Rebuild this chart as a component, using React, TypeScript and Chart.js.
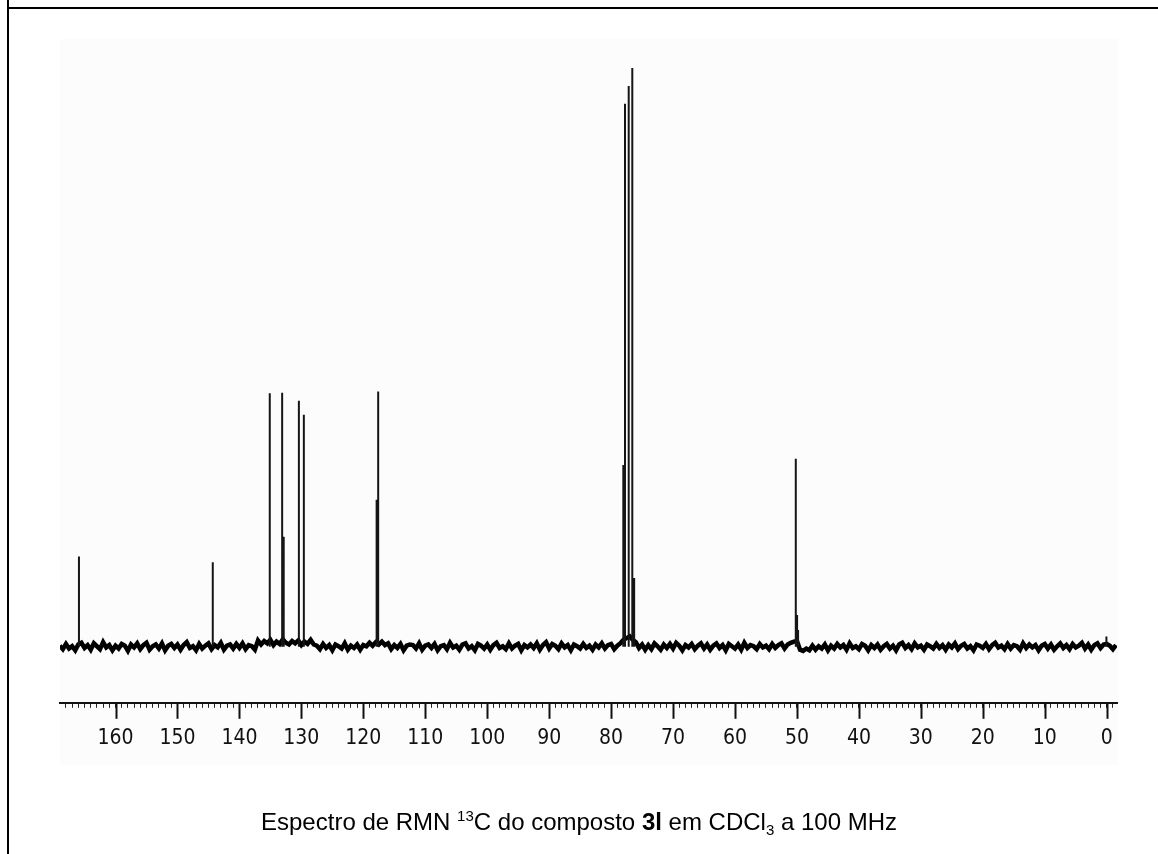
import React, { useEffect, useRef } from "react";
import { Chart, registerables } from "chart.js";

Chart.register(...registerables);

// ppm axis window
const X_MAX = 168.96;
const X_MIN = -1.66;
const Y_MIN = -9.67;
const Y_MAX = 105;

// baseline noise, sampled every 0.5 ppm starting at 169.0 ppm (relative intensity units)
const NOISE_START = 169.0;
const NOISE_STEP = 0.5;
const NOISE = [
  0.2, -0.4, 0.5, -0.3, 0.1, -0.6, 0.4, 0.7, -0.2, 0.3, -0.5, 0.6, 0.1, -0.4, 0.8, -0.1, 0.3, -0.6, 0.2,
  -0.3, 0.5, 0.2, -0.7, 0.4, -0.1, 0.6, -0.4, 0.3, 0.7, -0.5, 0.1, 0.4, -0.3, 0.6, -0.6, 0.2, 0.5, -0.2,
  0.4, -0.5, 0.3, 0.8, -0.2, 0.1, -0.6, 0.5, -0.3, 0.2, 0.6, -0.4, 0.3, -0.1, 0.7, -0.5, 0.2, 0.4, -0.3,
  0.5, -0.2, 0.6, -0.4, 0.3, 0.1, -0.5, 1.1, 0.4, 1.0, 0.6, 1.2, 0.3, 0.9, 0.5, 1.3, 0.7, 0.4, 1.0,
  0.6, 1.1, 0.3, 0.9, 0.5, 1.2, 0.4, 0.2, -0.4, 0.5, -0.2, 0.3, -0.6, 0.4, 0.1, -0.3, 0.6, -0.5, 0.2,
  -0.2, 0.4, -0.5, 0.3, 0.1, 0.7, 0.2, 0.8, 0.4, 0.9, 0.3, 0.6, -0.4, 0.3, -0.2, 0.5, -0.6, 0.2, 0.4,
  0.3, -0.3, 0.6, -0.5, 0.2, 0.4, -0.2, 0.5, -0.6, 0.1, 0.3, -0.4, 0.7, -0.1, 0.2, -0.5, 0.4, 0.6, -0.3,
  0.1, -0.6, 0.5, 0.2, -0.3, 0.4, -0.5, 0.3, 0.7, -0.2, 0.1, -0.4, 0.6, -0.3, 0.2, 0.5, -0.6, 0.3, -0.1,
  0.4, -0.2, 0.6, -0.5, 0.3, 0.8, -0.3, 0.5, 0.2, -0.4, 0.6, -0.1, 0.3, -0.6, 0.4, 0.1, -0.3, 0.5, -0.2,
  0.2, -0.5, 0.4, -0.1, 0.6, -0.3, 0.3, 0.5, -0.4, 0.2, 0.6, 1.2, 1.5, 1.8, 1.2, 0.8, -0.2, 0.4, -0.5,
  0.3, -0.4, 0.6, 0.1, -0.5, 0.4, -0.2, 0.5, -0.3, 0.7, 0.2, -0.6, 0.3, -0.1, 0.5, -0.4, 0.2, 0.6, -0.3,
  0.4, -0.5, 0.2, 0.6, -0.2, 0.3, -0.6, 0.5, 0.1, -0.3, 0.4, -0.5, 0.7, -0.2, 0.3, 0.1, -0.4, 0.5, -0.1,
  0.2, -0.4, 0.5, -0.2, 0.3, 0.6, -0.3, 0.4, 0.7, 0.9, 1.0, -0.5, -0.7, -0.3, -0.6, 0.2, -0.5, 0.1, -0.3,
  0.4, -0.6, 0.2, -0.3, 0.5, -0.1, 0.3, -0.5, 0.6, -0.2, 0.1, -0.4, 0.5, 0.2, -0.6, 0.3, -0.2, 0.4, -0.5,
  0.1, 0.5, -0.3, 0.2, -0.6, 0.4, 0.7, -0.2, 0.3, -0.4, 0.6, -0.1, 0.2, -0.5, 0.4, 0.1, -0.3, 0.5, -0.2,
  0.3, -0.5, 0.4, -0.1, 0.6, -0.4, 0.2, 0.5, -0.3, 0.1, -0.6, 0.4, 0.2, -0.2, 0.5, -0.4, 0.3, 0.7, -0.1,
  0.2, -0.4, 0.5, -0.3, 0.3, 0.1, -0.5, 0.6, -0.2, 0.4, -0.1, 0.3, -0.6, 0.2, 0.5, -0.3, 0.4, -0.5, 0.1,
  0.6, -0.2, 0.3, -0.4, 0.5, -0.1, 0.2, 0.7, -0.3, 0.4, -0.5, 0.3, 0.6, -0.2, 0.4, 0.5, 0.2, -0.4, 0.3,
];

// resonances (ppm) and their heights (relative, tallest = 100)
const PEAK_PPM = [165.9, 144.3, 135.1, 133.1, 132.85, 130.4, 129.6, 117.85, 117.6, 78.03, 77.76, 77.16, 76.58, 76.28, 50.19, 49.98, 49.82, 0.05];
const PEAK_HEIGHT = [15.6, 14.6, 43.8, 43.9, 19.0, 42.5, 40.1, 25.4, 44.1, 31.4, 93.8, 96.9, 100, 11.9, 32.5, 5.5, 2.9, 1.8];

// axis ticks
const MAJOR_TICKS = [160, 150, 140, 130, 120, 110, 100, 90, 80, 70, 60, 50, 40, 30, 20, 10, 0];
const MINOR_TICK_FIRST = 168;
const MINOR_TICK_LAST = -1;

const rulerPlugin = {
  id: "ruler",
  beforeDraw(chart: any) {
    const { ctx, chartArea } = chart;
    ctx.save();
    ctx.fillStyle = "#fcfcfc";
    ctx.fillRect(chartArea.left, chartArea.top, chartArea.right - chartArea.left + 1, chartArea.bottom - chartArea.top + 62);
    ctx.restore();
  },
  afterDraw(chart: any) {
    const { ctx, chartArea } = chart;
    const xs = chart.scales.x;
    ctx.save();
    ctx.strokeStyle = "#111";
    ctx.lineWidth = 2;
    MAJOR_TICKS.forEach((v) => {
      const px = Math.round(xs.getPixelForValue(v)) + 0.5;
      ctx.beginPath();
      ctx.moveTo(px, chartArea.bottom);
      ctx.lineTo(px, chartArea.bottom + 16);
      ctx.stroke();
    });
    ctx.restore();
  },
};

export default function App() {
  const ref = useRef<HTMLCanvasElement | null>(null);

  useEffect(() => {
    if (!ref.current) return;
    const noiseData = NOISE.map((y, i) => ({ x: NOISE_START - i * NOISE_STEP, y }));
    const peakData: { x: number; y: number | null }[] = [];
    PEAK_PPM.forEach((p, i) => {
      peakData.push({ x: p, y: 0 });
      peakData.push({ x: p, y: PEAK_HEIGHT[i] });
      peakData.push({ x: p, y: null });
    });
    const minorTicks: number[] = [];
    for (let v = MINOR_TICK_LAST; v <= MINOR_TICK_FIRST; v++) minorTicks.push(v);

    const chart = new Chart(ref.current, {
      type: "line",
      data: {
        datasets: [
          {
            data: peakData as any,
            borderColor: "#151515",
            borderWidth: 2,
            pointRadius: 0,
            spanGaps: false,
            tension: 0,
          },
          {
            data: noiseData,
            borderColor: "#000",
            borderWidth: 4.5,
            pointRadius: 0,
            tension: 0,
          },
        ],
      },
      options: {
        animation: false,
        responsive: false,
        devicePixelRatio: 1,
        layout: { padding: { left: 60, right: 41, top: 39, bottom: 85 } },
        plugins: { legend: { display: false }, tooltip: { enabled: false } },
        scales: {
          x: {
            type: "linear",
            reverse: true,
            min: X_MIN,
            max: X_MAX,
            afterBuildTicks: (s: any) => {
              s.ticks = minorTicks.map((v) => ({ value: v }));
            },
            ticks: {
              autoSkip: false,
              maxRotation: 0,
              minRotation: 0,
              padding: 18,
              color: "#111",
              font: { family: "'Liberation Sans Narrow', 'DejaVu Sans Condensed', 'Liberation Sans', sans-serif", size: 21 },
              callback: (v: any) => (MAJOR_TICKS.includes(Number(v)) ? String(v) : ""),
            },
            grid: { drawOnChartArea: false, drawTicks: true, tickLength: 5, color: "#222", lineWidth: 1 },
            border: { display: true, color: "#111", width: 2 },
          },
          y: { type: "linear", display: false, min: Y_MIN, max: Y_MAX },
        },
      },
      plugins: [rulerPlugin],
    } as any);
    return () => chart.destroy();
  }, []);

  return (
    <div style={{ position: "fixed", left: 0, top: 0, width: 1158, height: 854, background: "#fff", overflow: "hidden" }}>
      <canvas ref={ref} width={1158} height={854} style={{ position: "absolute", left: 0, top: 0, width: 1158, height: 854 }} />
      <div style={{ position: "absolute", left: 8, top: 7, width: 1150, height: 2, background: "#000" }} />
      <div style={{ position: "absolute", left: 7, top: 0, width: 2, height: 854, background: "#000" }} />
      <div
        style={{
          position: "absolute",
          left: 0,
          top: 810,
          width: 1158,
          textAlign: "center",
          fontFamily: "'Liberation Sans', Arial, sans-serif",
          fontSize: 24,
          lineHeight: "24px",
          color: "#000",
          whiteSpace: "nowrap",
        }}
      >
        Espectro de RMN <span style={{ fontSize: 15, position: "relative", top: -9 }}>13</span>C do composto <b>3l</b> em CDCl
        <span style={{ fontSize: 15, position: "relative", top: 5 }}>3</span> a 100 MHz
      </div>
    </div>
  );
}
